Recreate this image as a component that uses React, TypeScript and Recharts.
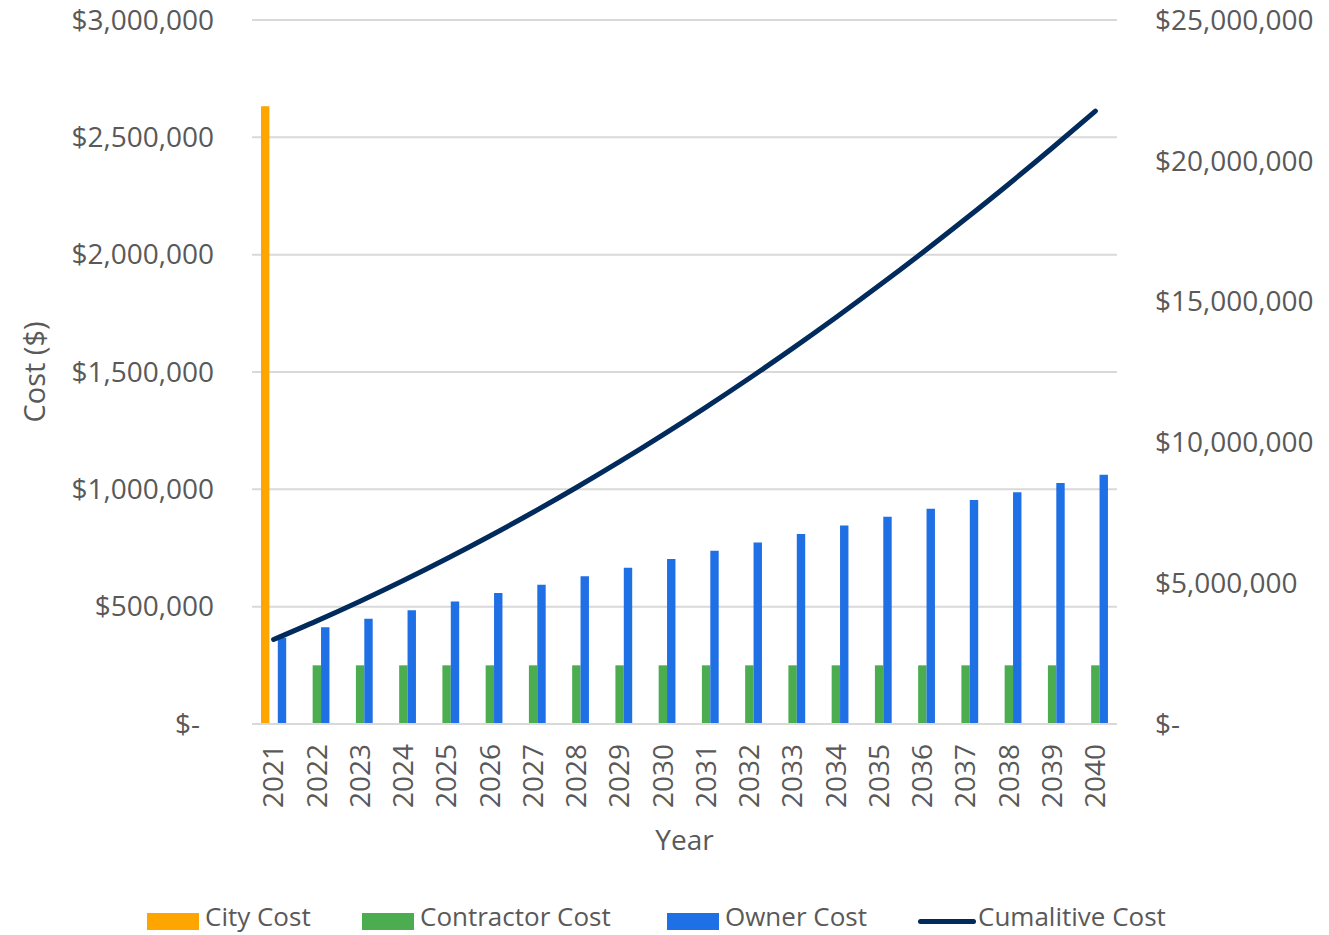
import { Bar, CartesianGrid, ComposedChart, Line, XAxis, YAxis } from "recharts"

const years = [
  "2021", "2022", "2023", "2024", "2025", "2026", "2027", "2028", "2029", "2030",
  "2031", "2032", "2033", "2034", "2035", "2036", "2037", "2038", "2039", "2040",
]
const cityCost = [2632000, 0, 0, 0, 0, 0, 0, 0, 0, 0, 0, 0, 0, 0, 0, 0, 0, 0, 0, 0]
const contractorCost = [
  0, 250000, 250000, 250000, 250000, 250000, 250000, 250000, 250000, 250000,
  250000, 250000, 250000, 250000, 250000, 250000, 250000, 250000, 250000, 250000,
]
const ownerCost = [
  368000, 412500, 448000, 485000, 522000, 558000, 593000, 630000, 665500, 703000,
  738000, 773500, 810000, 846000, 883000, 917000, 955000, 988000, 1027000, 1062000,
]
const cumulativeCost = [
  3000000, 3662500, 4360500, 5095500, 5867500, 6675500, 7518500, 8398500, 9314000, 10267000,
  11255000, 12278500, 13338500, 14434500, 15567500, 16734500, 17939500, 19177500, 20454500, 21766500,
]
const leftTicks = [0, 500000, 1000000, 1500000, 2000000, 2500000, 3000000]
const rightTicks = [0, 5000000, 10000000, 15000000, 20000000, 25000000]

const data = years.map((year, i) => ({
  year,
  city: cityCost[i],
  contractor: contractorCost[i],
  owner: ownerCost[i],
  cumulative: cumulativeCost[i],
}))

const FONT = "'Open Sans', sans-serif"
const TEXT = "#595959"
const GRID = "#d9d9d9"
const ORANGE = "#FFA500"
const GREEN = "#4CAD50"
const BLUE = "#1F6FE5"
const NAVY = "#002B5C"
const TICK_SIZE = 28

const money = (v: number) => (v === 0 ? "$-" : "$" + v.toLocaleString("en-US"))

function LeftTick({ x, y, payload }: any) {
  const v = payload.value
  return (
    <text x={x - 38 - (v === 0 ? 14 : 0)} y={y} dy="0.35em" textAnchor="end" fill={TEXT} fontSize={TICK_SIZE} fontFamily={FONT}>
      {money(v)}
    </text>
  )
}

function RightTick({ x, y, payload }: any) {
  return (
    <text x={x + 38} y={y} dy="0.35em" textAnchor="start" fill={TEXT} fontSize={TICK_SIZE} fontFamily={FONT}>
      {money(payload.value)}
    </text>
  )
}

function YearTick({ x, y, payload }: any) {
  return (
    <text
      transform={`translate(${x},${y + 20}) rotate(-90)`}
      dy="0.35em"
      textAnchor="end"
      fill={TEXT}
      fontSize={TICK_SIZE}
      fontFamily={FONT}
    >
      {payload.value}
    </text>
  )
}

const legendItems = [
  { label: "City Cost", color: ORANGE, left: 147, type: "rect" },
  { label: "Contractor Cost", color: GREEN, left: 362, type: "rect" },
  { label: "Owner Cost", color: BLUE, left: 667, type: "rect" },
  { label: "Cumalitive Cost", color: NAVY, left: 918, type: "line" },
]

function ChartLegend() {
  return (
    <div style={{ position: "absolute", left: 0, top: 900, width: 1329, height: 35 }}>
      {legendItems.map((item) => (
        <div key={item.label}>
          {item.type === "rect" ? (
            <div style={{ position: "absolute", left: item.left, top: 13, width: 52, height: 17, background: item.color }} />
          ) : (
            <div
              style={{ position: "absolute", left: item.left, top: 19, width: 58, height: 5, borderRadius: 3, background: item.color }}
            />
          )}
          <div
            style={{
              position: "absolute",
              left: item.left + (item.type === "rect" ? 58 : 60),
              top: 1,
              fontFamily: FONT,
              fontSize: 26,
              lineHeight: "30px",
              color: TEXT,
              whiteSpace: "nowrap",
            }}
          >
            {item.label}
          </div>
        </div>
      ))}
    </div>
  )
}

export default function App() {
  return (
    <div style={{ position: "absolute", left: 0, top: 0, width: 1329, height: 935, background: "#fff", overflow: "hidden" }}>
      <ComposedChart width={1329} height={935} data={data} margin={{ top: 20, right: 0, bottom: 81, left: 0 }} barGap={0}>
        <CartesianGrid vertical={false} stroke={GRID} strokeWidth={2} yAxisId="left" />
        <XAxis
          dataKey="year"
          height={130}
          tickLine={false}
          tickSize={0}
          tickMargin={0}
          axisLine={{ stroke: GRID, strokeWidth: 2 }}
          tick={<YearTick />}
          interval={0}
          label={{ value: "Year", position: "insideBottom", offset: 4, fill: TEXT, fontSize: TICK_SIZE, fontFamily: FONT }}
        />
        <YAxis
          yAxisId="left"
          orientation="left"
          width={252}
          domain={[0, 3000000]}
          ticks={leftTicks}
          axisLine={false}
          tickLine={false}
          tickSize={0}
          tickMargin={0}
          tick={<LeftTick />}
          label={{
            content: ({ viewBox }: any) => (
              <text
                transform={`translate(${viewBox.x + 35},${viewBox.y + viewBox.height / 2}) rotate(-90)`}
                dy="0.35em"
                textAnchor="middle"
                fill={TEXT}
                fontSize={29}
                fontFamily={FONT}
              >
                Cost ($)
              </text>
            ),
          }}
        />
        <YAxis
          yAxisId="right"
          orientation="right"
          width={212}
          domain={[0, 25000000]}
          ticks={rightTicks}
          axisLine={false}
          tickLine={false}
          tickSize={0}
          tickMargin={0}
          tick={<RightTick />}
        />
        <Bar yAxisId="left" dataKey="city" name="City Cost" fill={ORANGE} barSize={8.4} isAnimationActive={false} />
        <Bar yAxisId="left" dataKey="contractor" name="Contractor Cost" fill={GREEN} barSize={8.4} isAnimationActive={false} />
        <Bar yAxisId="left" dataKey="owner" name="Owner Cost" fill={BLUE} barSize={8.4} isAnimationActive={false} />
        <Line
          yAxisId="right"
          type="monotone"
          dataKey="cumulative"
          name="Cumalitive Cost"
          stroke={NAVY}
          strokeWidth={5}
          strokeLinecap="round"
          dot={false}
          activeDot={false}
          isAnimationActive={false}
        />
      </ComposedChart>
      <ChartLegend />
    </div>
  )
}
